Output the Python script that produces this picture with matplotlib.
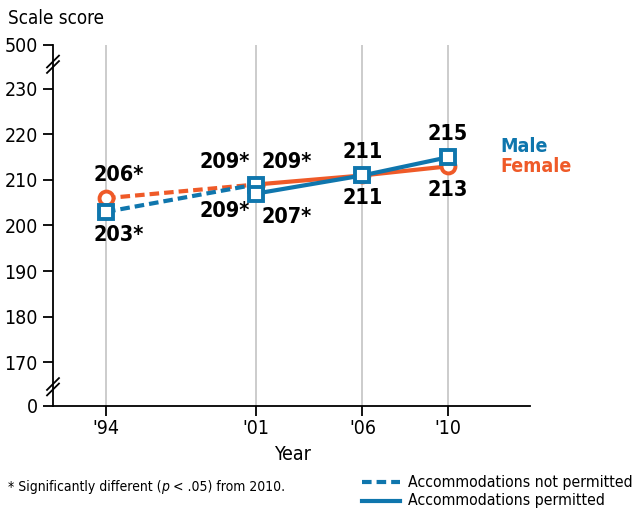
import matplotlib
matplotlib.use("Agg")
import matplotlib.pyplot as plt
from matplotlib.lines import Line2D

plt.rcParams['font.family'] = ['DejaVu Sans']
plt.rcParams['font.stretch'] = 'condensed'

# ---- data ----
years = [1994, 2001, 2006, 2010]
year_labels = ["'94", "'01", "'06", "'10"]
years_np = [1994, 2001]
male_np = [203, 209]
female_np = [206, 209]
years_p = [2001, 2006, 2010]
male_p = [207, 211, 215]
female_p = [209, 211, 213]
ytick_vals = [0, 170, 180, 190, 200, 210, 220, 230, 500]

BLUE = '#0f76ad'
ORANGE = '#ef5a28'

Y0, Y500 = 160.33, 239.67
def ymap(v):
    if v == 0:
        return Y0
    if v == 500:
        return Y500
    return v

fig = plt.figure(figsize=(6.39, 5.17), dpi=100)
ax = fig.add_axes([53/639, 1 - 406/517, (530 - 53)/639, (406 - 45)/517])
ax.set_xlim(1991.52, 2013.84)
ax.set_ylim(Y0, Y500)

for yr in years:
    ax.axvline(yr, color='#c8c8c8', lw=1.3, zorder=0)

lw = 3
mk = dict(markersize=10, markeredgewidth=2.8, markerfacecolor='white')
ax.plot(years_np, female_np, color=ORANGE, lw=lw, ls=(0, (2.3, 1.2)), zorder=2)
ax.plot(years_p, female_p, color=ORANGE, lw=lw, zorder=2)
ax.plot(years_np, female_np, ls='none', marker='o', color=ORANGE, zorder=3, **mk)
ax.plot(years_p, female_p, ls='none', marker='o', color=ORANGE, zorder=3, **mk)
ax.plot(years_np, male_np, color=BLUE, lw=lw, ls=(0, (2.3, 1.2)), zorder=4)
ax.plot(years_p, male_p, color=BLUE, lw=lw, zorder=4)
ax.plot(years_np, male_np, ls='none', marker='s', color=BLUE, zorder=5, **mk)
ax.plot(years_p, male_p, ls='none', marker='s', color=BLUE, zorder=5, **mk)

for s in ['top', 'right']:
    ax.spines[s].set_visible(False)
ax.spines['left'].set_linewidth(1.3)
ax.spines['bottom'].set_linewidth(1.3)
ax.set_yticks([ymap(v) for v in ytick_vals])
ax.set_yticklabels([str(v) for v in ytick_vals])
ax.set_xticks(years)
ax.set_xticklabels(year_labels)
ax.tick_params(axis='both', direction='out', length=7, width=1.3, labelsize=14, pad=4)
ax.tick_params(axis='x', pad=2)

for yb in [(Y500 + 230) / 2 + 0.6, (Y0 + 170) / 2 - 0.6]:
    for dy in (-0.6, 0.6):
        ax.plot([1991.52 - 0.28, 1991.52 + 0.28], [yb + dy - 1.3, yb + dy + 1.3],
                color='black', lw=1.3, clip_on=False, zorder=6)

lab = dict(fontsize=15.5, fontweight='bold', color='black', zorder=7)
def put(x, y, txt, dx, dy, ha):
    ax.annotate(txt, (x, y), xytext=(dx, dy), textcoords='offset points',
                ha=ha, va='center', **lab)

put(years_np[0], female_np[0], f"{female_np[0]}*", -9, 17, 'left')
put(years_np[0], male_np[0], f"{male_np[0]}*", -9, -17, 'left')
put(years_np[1], female_np[1], f"{female_np[1]}*", -4, 16, 'right')
put(years_np[1], male_np[1], f"{male_np[1]}*", -4, -19, 'right')
put(years_p[0], female_p[0], f"{female_p[0]}*", 4, 16, 'left')
put(years_p[0], male_p[0], f"{male_p[0]}*", 4, -17, 'left')
put(years_p[1], male_p[1], f"{male_p[1]}", 0, 17, 'center')
put(years_p[1], female_p[1], f"{female_p[1]}", 0, -16, 'center')
put(years_p[2], male_p[2], f"{male_p[2]}", 0, 17, 'center')
put(years_p[2], female_p[2], f"{female_p[2]}", 0, -17, 'center')

fig.text(500/639, 1 - 147/517, 'Male', color=BLUE, fontsize=14, fontweight='bold', va='center')
fig.text(500/639, 1 - 166/517, 'Female', color=ORANGE, fontsize=14, fontweight='bold', va='center')

fig.text(8/639, 1 - 18/517, 'Scale score', fontsize=13.5, va='center')
fig.text(292/639, 1 - 455/517, 'Year', fontsize=14, va='center', ha='center')

# footnote built from pieces (italic p)
renderer = fig.canvas.get_renderer()
x = 8
parts = [('* Significantly different (', 'normal'), ('p', 'italic'), (' < .05) from 2010.', 'normal')]
for txt, style in parts:
    t = fig.text(x/639, 1 - 487/517, txt, fontsize=10, style=style, va='center')
    x += t.get_window_extent(renderer).width

fig.add_artist(Line2D([362/639, 400/639], [1 - 482/517] * 2, color=BLUE, lw=3,
                      ls=(0, (2.3, 1.2))))
fig.add_artist(Line2D([362/639, 400/639], [1 - 501/517] * 2, color=BLUE, lw=3))
fig.text(408/639, 1 - 482/517, 'Accommodations not permitted', fontsize=11.3, va='center')
fig.text(408/639, 1 - 501/517, 'Accommodations permitted', fontsize=11.3, va='center')

fig.savefig('out.png', dpi=100)
